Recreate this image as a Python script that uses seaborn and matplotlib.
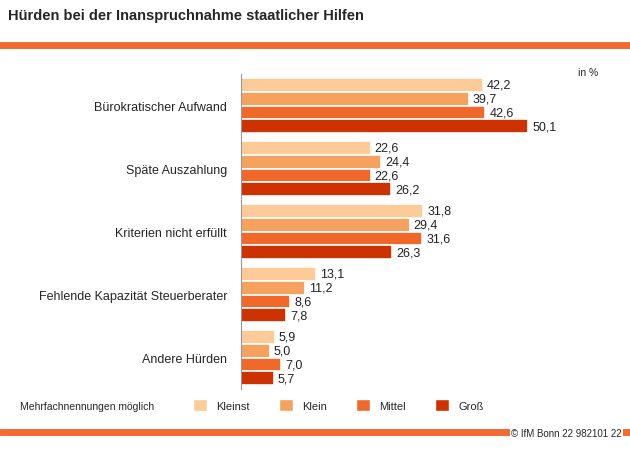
import seaborn as sns
import matplotlib.pyplot as plt
import pandas as pd
from matplotlib.patches import Patch

categories = ['Bürokratischer Aufwand', 'Späte Auszahlung', 'Kriterien nicht erfüllt',
              'Fehlende Kapazität Steuerberater', 'Andere Hürden']
sizes = ['Kleinst', 'Klein', 'Mittel', 'Groß']
kleinst = [42.2, 22.6, 31.8, 13.1, 5.9]
klein = [39.7, 24.4, 29.4, 11.2, 5.0]
mittel = [42.6, 22.6, 31.6, 8.6, 7.0]
gross = [50.1, 26.2, 26.3, 7.8, 5.7]
colors = ['#FDCB98', '#F5A25E', '#F0692B', '#CC3300']
orange = '#F26B35'

rows = []
for size, vals in zip(sizes, [kleinst, klein, mittel, gross]):
    for cat, v in zip(categories, vals):
        rows.append({'Kategorie': cat, 'Größe': size, 'Wert': v})
df = pd.DataFrame(rows)

sns.set_style('white')
plt.rcParams['font.family'] = ['Liberation Sans', 'DejaVu Sans']

fig = plt.figure(figsize=(6.3, 4.52), dpi=100)
ax = fig.add_axes([241 / 630, 1 - 390 / 452, 344 / 630, 315 / 452])
sns.barplot(data=df, y='Kategorie', x='Wert', hue='Größe', palette=colors, orient='h',
            width=0.88, ax=ax, legend=False, saturation=1, linewidth=1.2, edgecolor='white')
for cont in ax.containers:
    ax.bar_label(cont, labels=[f'{v:.1f}'.replace('.', ',') for v in cont.datavalues],
                 padding=3, fontsize=9, color='#222222')
ax.set_xlim(0, 60)
ax.set_xticks([])
ax.set_xlabel('')
ax.set_ylabel('')
ax.tick_params(axis='y', length=0, labelsize=9, pad=10)
for s in ['top', 'right', 'bottom']:
    ax.spines[s].set_visible(False)
ax.spines['left'].set_color('#999999')

fig.text(0.012, 1 - 16 / 452, 'Hürden bei der Inanspruchnahme staatlicher Hilfen',
         fontsize=10.5, fontweight='bold', va='center')
fig.add_artist(plt.Line2D([0, 1], [1 - 46 / 452] * 2, color=orange, lw=5))
fig.add_artist(plt.Line2D([0, 1], [1 - 433 / 452] * 2, color=orange, lw=5))
fig.text(1 - 8 / 630, 1 - 434 / 452, '© IfM Bonn 22 982101 22', fontsize=7, ha='right',
         va='center', bbox=dict(facecolor='white', edgecolor='none', pad=1))
fig.text(1 - 32 / 630, 1 - 73 / 452, 'in %', fontsize=7.5, ha='right', va='center')
fig.text(20 / 630, 1 - 407 / 452, 'Mehrfachnennungen möglich', fontsize=7.5, va='center')
handles = [Patch(facecolor=c, label=s) for c, s in zip(colors, sizes)]
fig.legend(handles=handles, ncol=4, loc='center left', bbox_to_anchor=(183 / 630, 1 - 406 / 452),
           frameon=False, fontsize=8, handlelength=1.3, handleheight=1.3, columnspacing=2.6)
fig.savefig('out.png', dpi=100)
